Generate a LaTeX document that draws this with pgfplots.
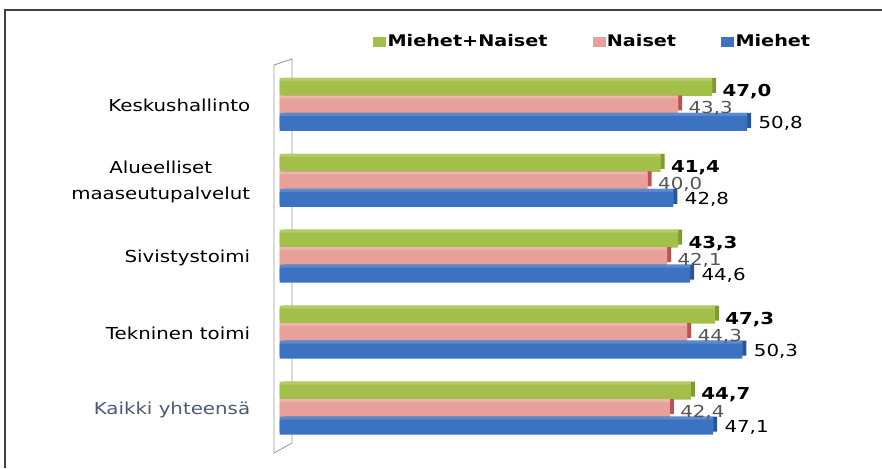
\documentclass[border=0pt]{standalone}
\usepackage{pgfplots}
\pgfplotsset{compat=1.18}
\usepackage{fontspec}
\setmainfont[FakeStretch=1.2]{DejaVu Sans}
\definecolor{gr}{HTML}{A2BF4A}
\definecolor{grt}{HTML}{B3CC66}
\definecolor{grd}{HTML}{7F9A30}
\definecolor{pk}{HTML}{E8A09A}
\definecolor{pkt}{HTML}{EEB5B0}
\definecolor{pkd}{HTML}{C0504D}
\definecolor{bl}{HTML}{3B73C2}
\definecolor{blt}{HTML}{5A8AD0}
\definecolor{bld}{HTML}{2A5696}
\definecolor{kaikki}{HTML}{4A5A72}
\definecolor{lblgray}{HTML}{555555}

\pgfplotstableread{
y   tot   nai   mie
4   47.0  43.3  50.8
3   41.4  40.0  42.8
2   43.3  42.1  44.6
1   47.3  44.3  50.3
0   44.7  42.4  47.1
}\datatable

\begin{document}
\begin{tikzpicture}[x=1pt,y=1pt,font=\fontsize{16.5}{26}\selectfont]
\path[use as bounding box] (0,0) rectangle (882,468);
\draw[line width=2pt, black!75] (5,0) -- (5,458) -- (882,458);
% back wall
\draw[black!40, fill=white, line width=0.8pt] (274,15) -- (274,403) -- (292,409) -- (292,25) -- cycle;
\begin{axis}[
  at={(304,7)}, anchor=south west,
  width=552pt, height=410pt, scale only axis,
  xmin=0, xmax=60, ymin=-0.7, ymax=4.7,
  axis line style={draw=none},
  tick style={draw=none},
  xtick=\empty,
  ytick={0,1,2,3,4},
  yticklabels={\textcolor{kaikki}{Kaikki yhteensä}, Tekninen toimi, Sivistystoimi, Alueelliset\\maaseutupalvelut, Keskushallinto},
  yticklabel style={align=center, xshift=-26pt},
  /pgf/number format/assume math mode=true,
  clip=false,
  legend columns=3,
  legend style={draw=none, fill=none, at={(0.567,1.027)}, anchor=center,
    font=\fontsize{16}{20}\selectfont\bfseries,
    /tikz/every even column/.append style={column sep=43pt}},
  bar width=15pt,
  nodes near coords align={horizontal},
  lbl/.style={nodes near coords={\pgfmathprintnumber[fixed,fixed zerofill,precision=1,use comma]{\pgfplotspointmeta}}},
]
\addlegendimage{legend image code/.code={\fill[gr] (-10pt,-4.5pt) rectangle (2pt,4.5pt);}}
\addlegendentry{Miehet+Naiset}
\addlegendimage{legend image code/.code={\fill[pk] (-10pt,-4.5pt) rectangle (2pt,4.5pt);}}
\addlegendentry{Naiset}
\addlegendimage{legend image code/.code={\fill[bl] (-10pt,-4.5pt) rectangle (2pt,4.5pt);}}
\addlegendentry{Miehet}
% Miehet+Naiset
\addplot[xbar, fill=grd, draw=none, bar shift=20.5pt, xshift=4pt, forget plot] table[x=tot,y=y] {\datatable};
\addplot[xbar, fill=grt, draw=none, bar shift=20.5pt, forget plot] table[x=tot,y=y] {\datatable};
\addplot[xbar, fill=gr, draw=none, bar shift=17.5pt, forget plot, lbl,
  every node near coord/.append style={font=\fontsize{16.5}{20}\selectfont\bfseries, text=black, xshift=7pt, yshift=14.5pt}]
  table[x=tot,y=y] {\datatable};
% Naiset
\addplot[xbar, fill=pkd, draw=none, bar shift=3pt, xshift=4pt, forget plot] table[x=nai,y=y] {\datatable};
\addplot[xbar, fill=pkt, draw=none, bar shift=3pt, forget plot] table[x=nai,y=y] {\datatable};
\addplot[xbar, fill=pk, draw=none, bar shift=0pt, forget plot, lbl,
  every node near coord/.append style={text=lblgray, xshift=7pt, yshift=-3pt}]
  table[x=nai,y=y] {\datatable};
% Miehet
\addplot[xbar, fill=bld, draw=none, bar shift=-14.5pt, xshift=4pt, forget plot] table[x=mie,y=y] {\datatable};
\addplot[xbar, fill=blt, draw=none, bar shift=-14.5pt, forget plot] table[x=mie,y=y] {\datatable};
\addplot[xbar, fill=bl, draw=none, bar shift=-17.5pt, forget plot, lbl,
  every node near coord/.append style={text=black, xshift=8pt, yshift=-17.5pt}]
  table[x=mie,y=y] {\datatable};
\end{axis}
\end{tikzpicture}
\end{document}
